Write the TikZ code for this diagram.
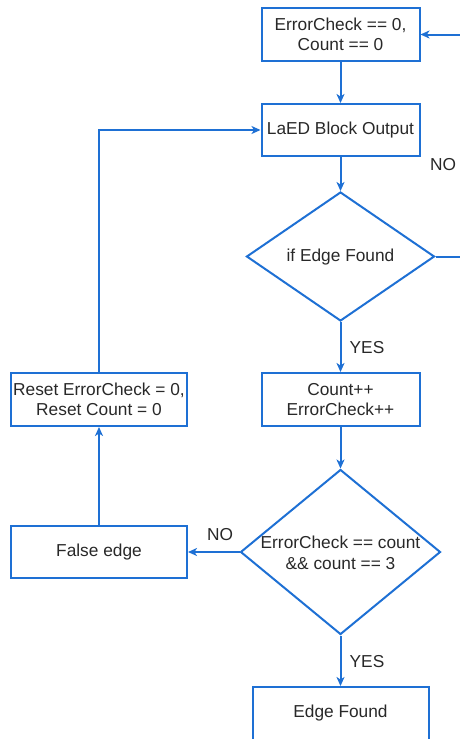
\documentclass[tikz,border=0pt]{standalone}
\usepackage{fontspec}
\setmainfont{Liberation Sans}
\usetikzlibrary{arrows.meta,shapes.geometric}
\definecolor{fcblue}{RGB}{30,112,212}
\definecolor{fctext}{RGB}{40,40,40}
\begin{document}
\begin{tikzpicture}[x=1pt,y=-1pt,
  every node/.style={font=\fontsize{17.3}{20.5}\selectfont, text=fctext},
  procbox/.style={draw=fcblue, line width=2pt, rectangle, align=center, inner sep=0pt},
  decision/.style={draw=fcblue, line width=2pt, diamond, inner sep=0pt},
  flow/.style={draw=fcblue, line width=2pt, -{Stealth[length=9pt,width=8pt,inset=2.5pt]}},
  lbl/.style={inner sep=0pt}]
\useasboundingbox (0,0) rectangle (460,739);
\clip (0,0) rectangle (460,739);
\node[procbox, minimum width=158, minimum height=53] (init) at (340.5,34.5) {ErrorCheck == 0,\\Count == 0};
\node[procbox, minimum width=158, minimum height=52] (laed) at (340.5,130) {LaED Block Output};
\node[decision, minimum width=188, minimum height=129, label={[align=center,yshift=-1pt]center:if Edge Found}] (d1) at (340.5,256.5) {};
\node[procbox, minimum width=158, minimum height=53] (count) at (340.5,399.5) {Count++\\ErrorCheck++};
\node[procbox, minimum width=176, minimum height=53] (reset) at (99,399.5) {Reset ErrorCheck = 0,\\Reset Count = 0};
\node[procbox, minimum width=176, minimum height=52] (false) at (99,552) {False edge};
\node[decision, minimum width=200, minimum height=165, label={[align=center,yshift=-1pt]center:ErrorCheck == count\\\&\& count == 3}] (d2) at (340.5,552) {};
\node[procbox, minimum width=176, minimum height=53] (edge) at (340.5,713.5) {Edge Found};
\coordinate (loopr) at (480,256.5);
\draw[flow] (init) -- (laed);
\draw[flow] (laed) -- (d1);
\draw[flow] (d1) -- (count);
\draw[flow] (count) -- (d2);
\draw[flow] (d2.west) -- (false.east);
\draw[flow] (false) -- (reset);
\draw[flow] (reset.north) |- (laed.west);
\draw[flow] (d2) -- (edge);
\draw[flow] (d1.east) -- (loopr) |- (init.east);
\node[lbl] (yes1) at (367,348) {YES};
\node[lbl] (yes2) at (367,662) {YES};
\node[lbl] (no1) at (220,535) {NO};
\node[lbl] (no2) at (443,165) {NO};
\end{tikzpicture}
\end{document}
